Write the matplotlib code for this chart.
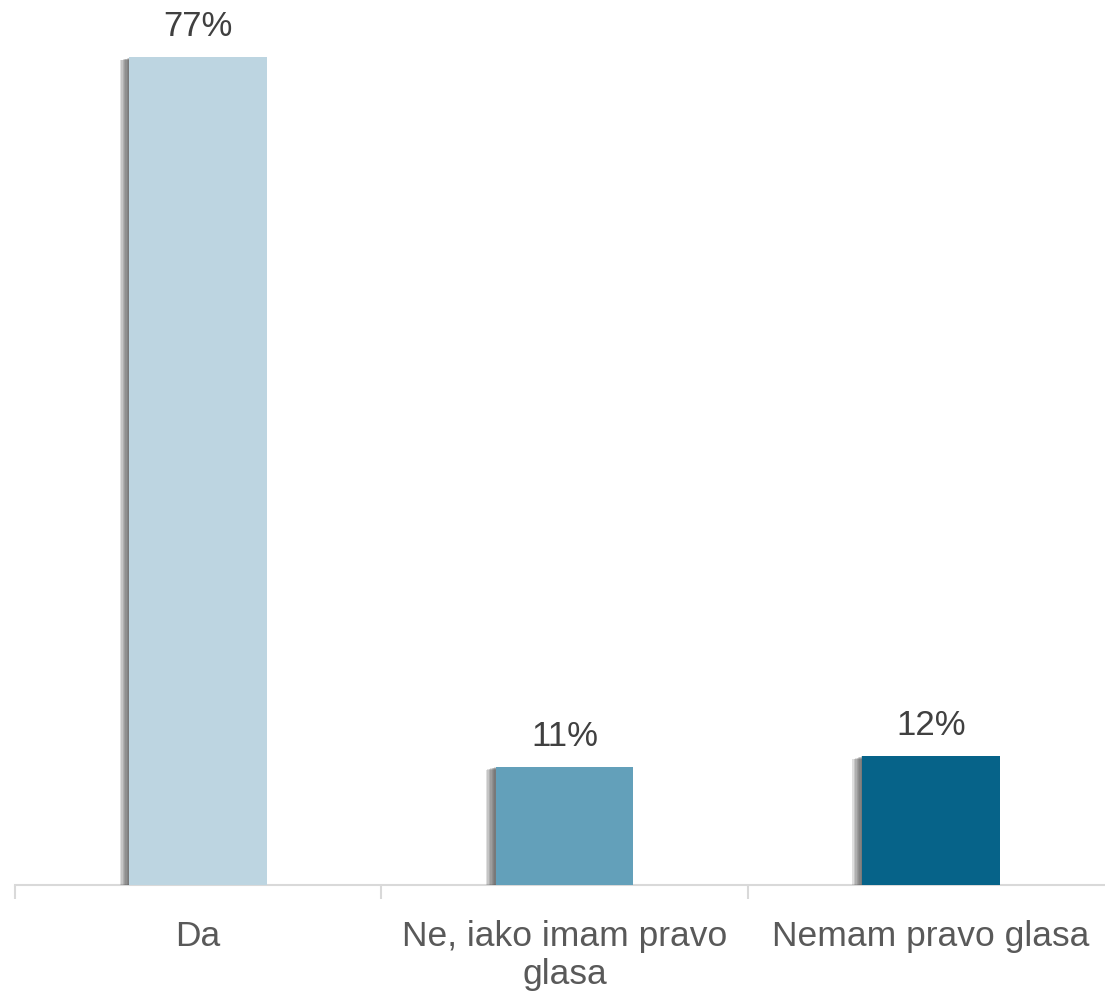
import matplotlib
matplotlib.use('Agg')
import matplotlib.pyplot as plt
import matplotlib.patheffects as pe
import numpy as np

categories = ['Da', 'Ne, iako imam pravo\nglasa', 'Nemam pravo glasa']
values = [77, 11, 12]
colors = ['#BDD5E1', '#63A0BA', '#066389']

plt.rcParams['font.family'] = ['Liberation Sans', 'DejaVu Sans']

fig = plt.figure(figsize=(11.05, 9.92), dpi=100)
ax = fig.add_axes([15 / 1105, 107 / 992, 1099 / 1105, 860 / 992])

x = np.arange(len(categories))
bars = ax.bar(x, values, width=0.375, color=colors, zorder=3)
# soft shadow on the left, built from a few faint layers
shadow = [pe.SimplePatchShadow(offset=(-d, -d * 0.3), shadow_rgbFace='#505050', alpha=0.18)
          for d in range(1, 8)]
for b in bars:
    b.set_path_effects(shadow + [pe.Normal()])

for xi, v in zip(x, values):
    ax.text(xi, v + 1.3, f'{v}%', ha='center', va='bottom', fontsize=25, color='#404040')

ax.set_xlim(-0.5, 2.5)
ax.set_ylim(0, 80)
ax.set_yticks([])
for s in ['top', 'right', 'left']:
    ax.spines[s].set_visible(False)
ax.spines['bottom'].set_color('#d9d9d9')
ax.spines['bottom'].set_linewidth(1.5)

ax.set_xticks(x)
ax.set_xticklabels(categories, fontsize=25.5, color='#595959', linespacing=1.2)
ax.tick_params(axis='x', which='major', length=0, pad=25)
ax.set_xticks([-0.5, 0.5, 1.5, 2.5], minor=True)
ax.tick_params(axis='x', which='minor', length=10, width=1.5, color='#d9d9d9')

fig.savefig('out.png', dpi=100)
